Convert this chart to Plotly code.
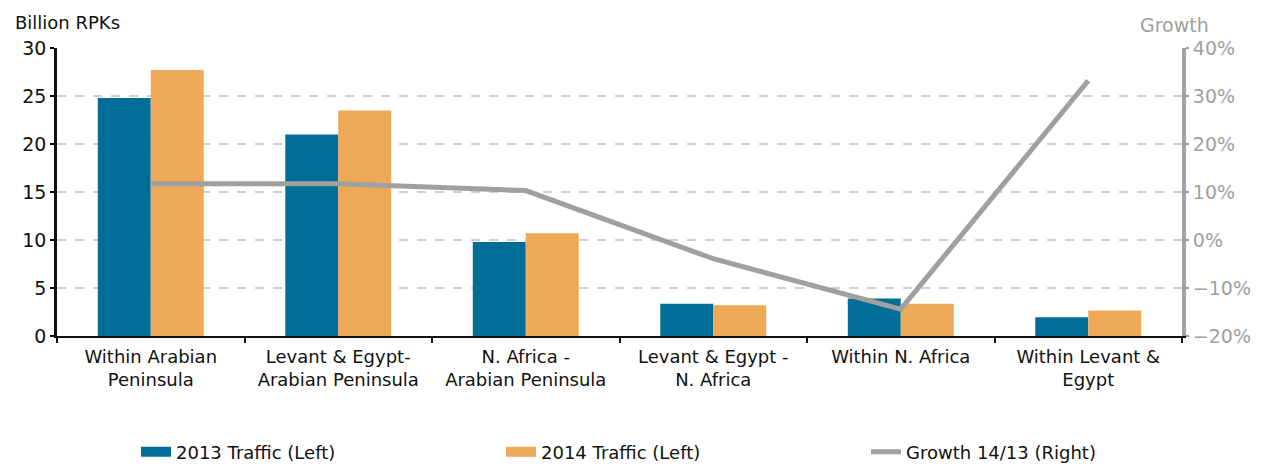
import plotly.graph_objects as go

categories = ["Within Arabian<br>Peninsula", "Levant & Egypt-<br>Arabian Peninsula", "N. Africa -<br>Arabian Peninsula",
              "Levant & Egypt -<br>N. Africa", "Within N. Africa", "Within Levant &<br>Egypt"]
traffic_2013 = [24.8, 21.0, 9.8, 3.35, 3.9, 1.95]
traffic_2014 = [27.7, 23.5, 10.7, 3.2, 3.35, 2.65]
growth_pct = [11.7, 11.7, 10.3, -3.9, -14.4, 33.2]

BLUE = "#006E96"
ORANGE = "#EDA957"
GREY = "#A0A0A0"
FONT = "DejaVu Sans"

fig = go.Figure()
fig.add_trace(go.Bar(x=categories, y=traffic_2013, marker=dict(color=BLUE, line=dict(width=0)),
                     name="2013 Traffic (Left)", showlegend=False))
fig.add_trace(go.Bar(x=categories, y=traffic_2014, marker=dict(color=ORANGE, line=dict(width=0)),
                     name="2014 Traffic (Left)", showlegend=False))
fig.add_trace(go.Scatter(x=categories, y=growth_pct, yaxis="y2", mode="lines",
                         line=dict(color=GREY, width=5), name="Growth 14/13 (Right)", legend="legend3"))
# legend swatches
fig.add_trace(go.Scatter(x=[None], y=[None], mode="lines", line=dict(color=BLUE, width=10),
                         name="2013 Traffic (Left)", legend="legend"))
fig.add_trace(go.Scatter(x=[None], y=[None], mode="lines", line=dict(color=ORANGE, width=10),
                         name="2014 Traffic (Left)", legend="legend2"))

legfont = dict(family=FONT, size=18, color="#111")
# the page body adds an 8px offset; size the figure so it fills the 1263x466 window exactly
W, H = 1255, 458
OFF = 8


def px2x(p):
    return (p - 57) / 1125


def leg(xscreen):
    return dict(x=(xscreen - OFF) / W, y=(H - (452 - OFF)) / H, xref="container", yref="container",
                xanchor="left", yanchor="middle", font=legfont, bgcolor="rgba(0,0,0,0)")


fig.update_layout(
    width=W, height=H,
    margin=dict(l=57 - OFF, r=W - (1182 - OFF), t=48 - OFF, b=H - (336 - OFF), autoexpand=False),
    paper_bgcolor="white", plot_bgcolor="white",
    barmode="group", bargap=0.435, bargroupgap=0,
    font=dict(family=FONT, size=18, color="#111"),
    xaxis=dict(showline=True, linecolor="#111", linewidth=2, ticks="outside", tickson="boundaries",
               ticklen=5, tickcolor="#111", tickwidth=2, showgrid=False, ticklabelstandoff=3,
               tickfont=dict(family=FONT, size=18, color="#111")),
    yaxis=dict(range=[0, 30], dtick=5, showline=True, linecolor="#111", linewidth=2.5, ticks="outside",
               ticklen=4, tickcolor="#111", tickwidth=2, showgrid=True, gridcolor="#CFCFCF",
               griddash="dash", gridwidth=1.5, zeroline=False,
               tickfont=dict(family=FONT, size=19, color="#111")),
    yaxis2=dict(range=[-20, 40], dtick=10, overlaying="y", side="right", showline=True,
                linecolor=GREY, linewidth=4, ticks="outside", ticklen=3, tickcolor=GREY, tickwidth=2,
                showgrid=False, zeroline=False, ticksuffix="%",
                tickfont=dict(family=FONT, size=19, color=GREY)),
    legend=leg(136),
    legend2=leg(501),
    legend3=leg(866),
    annotations=[
        dict(text="Billion RPKs", x=px2x(13), y=1 + 26 / 288, xref="paper", yref="paper",
             xanchor="left", yanchor="middle", showarrow=False,
             font=dict(family=FONT, size=18, color="#111")),
        dict(text="Growth", x=px2x(1174), y=1 + 23 / 288, xref="paper", yref="paper",
             xanchor="center", yanchor="middle", showarrow=False,
             font=dict(family=FONT, size=19, color=GREY)),
    ],
)

fig.write_html("out.html")
